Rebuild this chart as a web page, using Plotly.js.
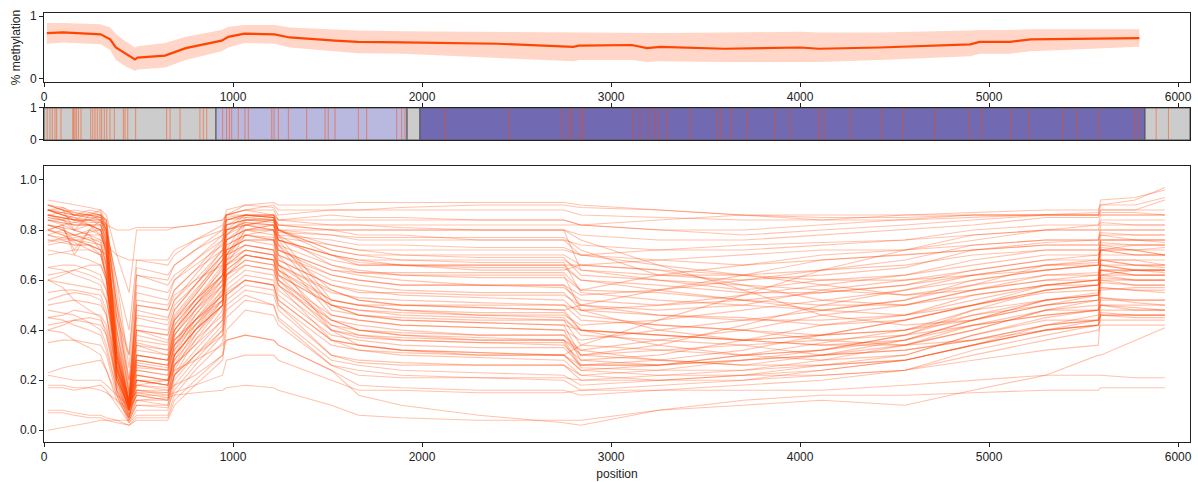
<!DOCTYPE html>
<html><head><meta charset="utf-8">
<script src="https://cdn.plot.ly/plotly-3.0.1.min.js"></script>
<style>body{margin:0;background:#fff}#plot{width:1198px;height:482px}</style>
</head><body><div id="plot"></div>
<script>
// ---- summary (top panel) ----
const meanPos = [15,100,300,350,380,430,481,495,640,750,940,975,1060,1220,1300,1540,1660,1900,2400,2800,2830,3110,3190,3260,3600,4000,4100,4420,4900,4950,5110,5220,5795];
const meanVal = [0.73,0.74,0.71,0.63,0.50,0.40,0.31,0.34,0.37,0.49,0.61,0.67,0.72,0.71,0.66,0.61,0.59,0.58,0.56,0.51,0.53,0.54,0.49,0.51,0.48,0.50,0.48,0.50,0.55,0.59,0.59,0.63,0.65];
const meanHi  = [0.89,0.89,0.87,0.82,0.72,0.60,0.50,0.52,0.57,0.67,0.78,0.83,0.86,0.86,0.82,0.78,0.77,0.76,0.75,0.74,0.74,0.74,0.73,0.73,0.74,0.75,0.74,0.74,0.77,0.78,0.78,0.79,0.79];
const meanLo  = [0.56,0.58,0.55,0.46,0.30,0.20,0.13,0.15,0.18,0.30,0.44,0.50,0.57,0.56,0.50,0.44,0.41,0.40,0.34,0.28,0.30,0.30,0.27,0.28,0.27,0.27,0.27,0.30,0.36,0.40,0.40,0.44,0.51];

// ---- annotation track (middle panel) ----
const regionStart = [0, 910, 1921, 1989, 5825];
const regionEnd   = [910, 1921, 1989, 5825, 6063];
const regionColor = ['#cccccc', '#b9b9df', '#cccccc', '#7169b1', '#cccccc'];
const cpgPos = [17,32,44,58,67,90,152,157,164,171,182,196,247,258,270,282,296,305,319,332,349,372,420,429,443,485,649,667,720,825,843,861,
  945,966,981,993,1028,1063,1081,1205,1217,1240,1293,1390,1487,1504,1540,1663,1707,1866,1892,1910,
  2122,2462,2739,2774,2792,2836,2853,3118,3153,3197,3233,3250,3295,3418,3559,3585,3638,3717,3868,3947,
  4097,4127,4265,4432,4547,4714,4891,4961,5115,5213,5393,5467,5578,5773,5796,5884,5949];

// ---- single reads (bottom panel) ----
const readPos = [20,100,160,240,300,330, 385,450,490,655, 690,800,945,965, 1065,1215,1240, 1520,1665,1890,2300,2750,2840, 3250,3700,4115,4555,4915,5300, 5578,5590,5772,5930];
const reads = [
[0.88,0.89,0.86,0.88,0.87,0.80, 0.35,0.10,0.62,0.60, 0.66,0.72,0.80,0.88, 0.90,0.89,0.86, 0.88,0.88,0.89,0.90,0.90,0.89, 0.88,0.86,0.85,0.85,0.86,0.86, 0.86,0.90,0.92,0.97],
[0.90,0.88,0.80,0.86,0.88,0.82, 0.30,0.09,0.55,0.52, 0.60,0.68,0.78,0.86, 0.88,0.88,0.84, 0.86,0.85,0.85,0.84,0.84,0.82, 0.80,0.78,0.80,0.82,0.84,0.86, 0.86,0.88,0.88,0.92],
[0.86,0.85,0.84,0.87,0.86,0.78, 0.28,0.12,0.48,0.45, 0.52,0.62,0.75,0.85, 0.86,0.85,0.80, 0.80,0.78,0.78,0.76,0.76,0.70, 0.68,0.66,0.70,0.72,0.78,0.80, 0.80,0.84,0.84,0.84],
[0.80,0.82,0.70,0.80,0.84,0.80, 0.40,0.10,0.42,0.40, 0.48,0.58,0.72,0.84, 0.85,0.84,0.79, 0.78,0.77,0.77,0.77,0.77,0.72, 0.62,0.60,0.62,0.65,0.72,0.75, 0.76,0.80,0.80,0.80],
[0.78,0.80,0.78,0.80,0.80,0.70, 0.25,0.08,0.38,0.35, 0.45,0.55,0.70,0.82, 0.84,0.83,0.77, 0.74,0.72,0.70,0.69,0.69,0.62, 0.60,0.56,0.60,0.62,0.68,0.72, 0.72,0.76,0.76,0.75],
[0.88,0.86,0.85,0.84,0.86,0.84, 0.45,0.14,0.35,0.32, 0.44,0.54,0.68,0.80, 0.83,0.82,0.76, 0.70,0.68,0.66,0.65,0.65,0.60, 0.58,0.55,0.55,0.58,0.64,0.68, 0.68,0.72,0.72,0.70],
[0.90,0.88,0.86,0.85,0.85,0.80, 0.50,0.15,0.30,0.28, 0.40,0.52,0.66,0.78, 0.85,0.86,0.80, 0.72,0.70,0.68,0.67,0.67,0.55, 0.52,0.50,0.48,0.52,0.60,0.64, 0.66,0.74,0.72,0.70],
[0.85,0.84,0.83,0.82,0.82,0.76, 0.32,0.10,0.27,0.25, 0.38,0.50,0.65,0.80, 0.82,0.80,0.74, 0.66,0.64,0.62,0.61,0.61,0.56, 0.55,0.52,0.50,0.50,0.56,0.62, 0.63,0.68,0.66,0.65],
[0.82,0.81,0.72,0.80,0.78,0.72, 0.28,0.09,0.24,0.22, 0.34,0.48,0.62,0.76, 0.80,0.80,0.72, 0.64,0.62,0.60,0.58,0.58,0.50, 0.46,0.44,0.44,0.46,0.52,0.58, 0.60,0.66,0.64,0.63],
[0.75,0.77,0.78,0.79,0.80,0.70, 0.26,0.11,0.22,0.20, 0.32,0.46,0.60,0.74, 0.78,0.77,0.70, 0.60,0.58,0.56,0.55,0.55,0.48, 0.46,0.45,0.42,0.44,0.50,0.56, 0.58,0.68,0.68,0.66],
[0.88,0.86,0.84,0.84,0.84,0.78, 0.36,0.12,0.20,0.18, 0.30,0.44,0.58,0.72, 0.76,0.76,0.68, 0.58,0.56,0.54,0.53,0.52,0.46, 0.42,0.40,0.38,0.40,0.46,0.52, 0.55,0.62,0.60,0.60],
[0.86,0.85,0.84,0.83,0.83,0.74, 0.30,0.10,0.18,0.16, 0.28,0.42,0.56,0.70, 0.80,0.82,0.74, 0.56,0.52,0.50,0.49,0.48,0.40, 0.38,0.36,0.34,0.36,0.44,0.50, 0.54,0.64,0.62,0.62],
[0.84,0.83,0.82,0.82,0.80,0.72, 0.25,0.09,0.16,0.14, 0.26,0.40,0.55,0.72, 0.84,0.85,0.78, 0.52,0.50,0.48,0.46,0.45,0.38, 0.36,0.34,0.30,0.34,0.40,0.48, 0.52,0.60,0.58,0.58],
[0.80,0.78,0.76,0.77,0.75,0.66, 0.22,0.08,0.14,0.12, 0.24,0.38,0.52,0.70, 0.82,0.84,0.76, 0.50,0.48,0.46,0.45,0.44,0.34, 0.32,0.30,0.28,0.30,0.38,0.45, 0.48,0.57,0.56,0.55],
[0.78,0.76,0.74,0.74,0.72,0.62, 0.20,0.10,0.12,0.10, 0.22,0.36,0.50,0.68, 0.80,0.82,0.74, 0.48,0.46,0.44,0.43,0.42,0.30, 0.28,0.26,0.26,0.28,0.34,0.42, 0.46,0.53,0.52,0.52],
[0.70,0.71,0.72,0.72,0.70,0.60, 0.24,0.12,0.15,0.13, 0.26,0.34,0.48,0.66, 0.78,0.80,0.70, 0.46,0.44,0.42,0.41,0.40,0.28, 0.26,0.30,0.32,0.36,0.42,0.46, 0.48,0.50,0.48,0.48],
[0.88,0.87,0.86,0.86,0.85,0.84, 0.55,0.20,0.45,0.42, 0.50,0.58,0.70,0.80, 0.86,0.85,0.82, 0.80,0.80,0.80,0.80,0.80,0.78, 0.76,0.76,0.78,0.80,0.82,0.85, 0.85,0.87,0.87,0.86],
[0.84,0.83,0.82,0.82,0.80,0.80, 0.60,0.25,0.58,0.55, 0.60,0.66,0.74,0.82, 0.84,0.84,0.80, 0.78,0.76,0.76,0.76,0.76,0.74, 0.72,0.72,0.74,0.76,0.80,0.82, 0.82,0.83,0.82,0.82],
[0.76,0.75,0.74,0.74,0.72,0.70, 0.45,0.20,0.50,0.48, 0.54,0.60,0.66,0.76, 0.80,0.80,0.76, 0.70,0.68,0.68,0.68,0.68,0.64, 0.62,0.62,0.64,0.68,0.74,0.76, 0.76,0.79,0.78,0.78],
[0.62,0.63,0.64,0.62,0.60,0.56, 0.40,0.16,0.34,0.32, 0.42,0.52,0.62,0.72, 0.76,0.76,0.72, 0.62,0.60,0.58,0.58,0.57,0.52, 0.50,0.54,0.58,0.62,0.66,0.70, 0.70,0.75,0.74,0.74],
[0.60,0.59,0.58,0.57,0.56,0.52, 0.32,0.12,0.28,0.26, 0.38,0.48,0.58,0.68, 0.72,0.70,0.66, 0.55,0.53,0.52,0.51,0.50,0.48, 0.50,0.52,0.55,0.58,0.62,0.66, 0.66,0.72,0.70,0.70],
[0.65,0.64,0.62,0.60,0.58,0.52, 0.28,0.10,0.25,0.24, 0.34,0.44,0.54,0.66, 0.70,0.68,0.62, 0.50,0.48,0.47,0.46,0.46,0.42, 0.44,0.48,0.52,0.56,0.62,0.66, 0.67,0.73,0.72,0.72],
[0.50,0.51,0.52,0.51,0.50,0.46, 0.24,0.08,0.20,0.18, 0.30,0.40,0.50,0.62, 0.68,0.66,0.60, 0.46,0.44,0.42,0.41,0.40,0.36, 0.40,0.44,0.48,0.52,0.58,0.62, 0.62,0.68,0.66,0.66],
[0.45,0.46,0.48,0.47,0.46,0.42, 0.20,0.06,0.16,0.15, 0.26,0.36,0.46,0.60, 0.66,0.64,0.58, 0.42,0.40,0.38,0.37,0.36,0.32, 0.36,0.40,0.46,0.50,0.56,0.60, 0.60,0.66,0.64,0.64],
[0.42,0.43,0.44,0.43,0.42,0.38, 0.18,0.05,0.12,0.12, 0.22,0.32,0.44,0.58, 0.64,0.62,0.56, 0.40,0.38,0.36,0.35,0.34,0.28, 0.30,0.36,0.42,0.46,0.54,0.58, 0.58,0.64,0.62,0.62],
[0.48,0.47,0.46,0.43,0.40,0.34, 0.16,0.04,0.10,0.10, 0.20,0.30,0.42,0.56, 0.62,0.60,0.54, 0.38,0.36,0.34,0.33,0.33,0.26, 0.28,0.32,0.38,0.44,0.50,0.55, 0.56,0.61,0.60,0.60],
[0.35,0.36,0.36,0.35,0.34,0.30, 0.14,0.03,0.08,0.08, 0.18,0.28,0.40,0.54, 0.60,0.58,0.52, 0.36,0.34,0.32,0.31,0.30,0.24, 0.26,0.30,0.35,0.40,0.48,0.52, 0.54,0.59,0.58,0.58],
[0.23,0.25,0.26,0.27,0.28,0.24, 0.14,0.04,0.10,0.09, 0.16,0.26,0.38,0.52, 0.58,0.56,0.50, 0.34,0.32,0.30,0.29,0.28,0.22, 0.24,0.28,0.32,0.38,0.46,0.50, 0.52,0.57,0.56,0.56],
[0.17,0.17,0.16,0.17,0.18,0.16, 0.10,0.03,0.06,0.06, 0.14,0.24,0.35,0.50, 0.56,0.54,0.48, 0.30,0.28,0.27,0.26,0.26,0.20, 0.22,0.24,0.28,0.34,0.42,0.48, 0.48,0.53,0.51,0.50],
[0.07,0.07,0.06,0.05,0.05,0.04, 0.04,0.02,0.05,0.05, 0.12,0.20,0.30,0.45, 0.52,0.50,0.45, 0.28,0.26,0.24,0.23,0.22,0.18, 0.20,0.22,0.26,0.30,0.38,0.44, 0.44,0.50,0.49,0.48],
[0.00,0.01,0.02,0.03,0.04,0.04, 0.03,0.02,0.04,0.04, 0.10,0.18,0.28,0.40, 0.48,0.46,0.42, 0.26,0.24,0.22,0.21,0.20,0.16, 0.18,0.20,0.24,0.28,0.34,0.40, 0.42,0.47,0.46,0.46],
[0.92,0.91,0.90,0.89,0.88,0.86, 0.70,0.55,0.80,0.80, 0.81,0.82,0.84,0.86, 0.90,0.91,0.90, 0.90,0.91,0.91,0.91,0.91,0.90, 0.88,0.86,0.84,0.84,0.85,0.86, 0.87,0.92,0.93,0.96],
[0.86,0.87,0.88,0.87,0.86,0.80, 0.60,0.40,0.68,0.66, 0.70,0.76,0.82,0.86, 0.88,0.90,0.88, 0.88,0.88,0.88,0.88,0.88,0.86, 0.85,0.84,0.84,0.86,0.87,0.88, 0.88,0.90,0.90,0.93],
[0.80,0.82,0.83,0.84,0.84,0.80, 0.50,0.30,0.65,0.62, 0.66,0.72,0.78,0.84, 0.86,0.86,0.84, 0.84,0.84,0.84,0.84,0.84,0.82, 0.80,0.80,0.82,0.84,0.86,0.86, 0.86,0.88,0.88,0.88],
[0.88,0.86,0.85,0.82,0.80,0.74, 0.32,0.12,0.50,0.48, 0.56,0.64,0.76,0.84, 0.86,0.86,0.82, 0.80,0.80,0.80,0.80,0.80,0.64, 0.60,0.58,0.56,0.54,0.58,0.66, 0.68,0.76,0.76,0.76],
[0.85,0.84,0.86,0.86,0.86,0.82, 0.30,0.10,0.46,0.44, 0.52,0.60,0.72,0.82, 0.84,0.84,0.78, 0.76,0.74,0.74,0.73,0.73,0.70, 0.72,0.74,0.75,0.76,0.78,0.80, 0.80,0.80,0.80,0.80],
[0.80,0.79,0.78,0.76,0.76,0.68, 0.26,0.09,0.40,0.38, 0.48,0.58,0.70,0.80, 0.83,0.82,0.76, 0.70,0.66,0.66,0.64,0.64,0.66, 0.68,0.70,0.72,0.72,0.74,0.76, 0.76,0.82,0.82,0.82],
[0.90,0.88,0.86,0.85,0.84,0.76, 0.34,0.11,0.36,0.34, 0.44,0.54,0.68,0.78, 0.82,0.80,0.72, 0.64,0.63,0.63,0.63,0.63,0.56, 0.62,0.66,0.68,0.70,0.72,0.74, 0.74,0.78,0.76,0.76],
[0.84,0.82,0.80,0.82,0.82,0.76, 0.30,0.10,0.32,0.30, 0.42,0.52,0.64,0.76, 0.80,0.78,0.70, 0.62,0.60,0.58,0.58,0.58,0.54, 0.56,0.60,0.64,0.66,0.70,0.72, 0.72,0.74,0.74,0.74],
[0.76,0.76,0.77,0.78,0.78,0.72, 0.24,0.08,0.30,0.28, 0.40,0.50,0.62,0.74, 0.78,0.76,0.68, 0.58,0.55,0.55,0.54,0.54,0.50, 0.48,0.50,0.56,0.60,0.64,0.68, 0.70,0.72,0.70,0.70],
[0.82,0.80,0.78,0.76,0.74,0.66, 0.22,0.08,0.28,0.26, 0.38,0.48,0.60,0.72, 0.76,0.74,0.66, 0.52,0.50,0.50,0.50,0.50,0.44, 0.42,0.40,0.36,0.34,0.40,0.48, 0.50,0.62,0.62,0.62],
[0.78,0.77,0.76,0.74,0.70,0.62, 0.20,0.07,0.26,0.24, 0.36,0.46,0.58,0.70, 0.74,0.72,0.64, 0.50,0.46,0.45,0.44,0.44,0.40, 0.38,0.36,0.38,0.40,0.44,0.52, 0.54,0.64,0.64,0.64],
[0.88,0.86,0.84,0.82,0.78,0.70, 0.26,0.09,0.34,0.30, 0.40,0.50,0.60,0.70, 0.74,0.72,0.64, 0.44,0.40,0.39,0.38,0.38,0.30, 0.32,0.34,0.36,0.38,0.42,0.46, 0.48,0.56,0.57,0.57],
[0.72,0.71,0.70,0.68,0.66,0.60, 0.18,0.06,0.22,0.20, 0.32,0.42,0.54,0.66, 0.72,0.70,0.62, 0.42,0.38,0.37,0.36,0.36,0.26, 0.26,0.28,0.30,0.32,0.36,0.42, 0.44,0.46,0.46,0.46],
[0.65,0.66,0.66,0.64,0.62,0.56, 0.16,0.05,0.20,0.18, 0.30,0.40,0.52,0.64, 0.70,0.68,0.60, 0.40,0.37,0.36,0.35,0.35,0.25, 0.24,0.24,0.26,0.28,0.34,0.40, 0.42,0.44,0.44,0.44],
[0.55,0.56,0.56,0.55,0.54,0.48, 0.15,0.05,0.18,0.17, 0.28,0.38,0.50,0.62, 0.68,0.66,0.58, 0.36,0.32,0.31,0.30,0.30,0.24, 0.22,0.22,0.22,0.24,0.30,0.36, 0.40,0.42,0.42,0.42],
[0.60,0.57,0.52,0.48,0.45,0.38, 0.20,0.10,0.20,0.20, 0.26,0.34,0.44,0.55, 0.60,0.58,0.50, 0.30,0.27,0.26,0.26,0.26,0.22, 0.20,0.20,0.22,0.24,0.28,0.32, 0.34,0.48,0.48,0.48],
[0.40,0.39,0.36,0.33,0.30,0.24, 0.12,0.05,0.15,0.15, 0.22,0.30,0.38,0.48, 0.54,0.50,0.44, 0.26,0.22,0.21,0.21,0.21,0.20, 0.20,0.22,0.24,0.28,0.34,0.40, 0.44,0.50,0.50,0.50],
[0.22,0.21,0.20,0.20,0.20,0.18, 0.14,0.10,0.16,0.16, 0.18,0.22,0.30,0.36, 0.38,0.36,0.34, 0.24,0.18,0.17,0.16,0.16,0.14, 0.16,0.18,0.20,0.24,0.32,0.38, 0.42,0.46,0.45,0.45],
[0.18,0.18,0.17,0.17,0.16,0.15, 0.12,0.08,0.14,0.14, 0.15,0.18,0.22,0.28, 0.30,0.30,0.28, 0.20,0.16,0.16,0.15,0.15,0.16, 0.16,0.16,0.16,0.18,0.20,0.22, 0.22,0.22,0.21,0.21],
[0.08,0.08,0.07,0.06,0.06,0.05, 0.04,0.04,0.12,0.13, 0.14,0.15,0.16,0.17, 0.18,0.17,0.16, 0.10,0.06,0.05,0.04,0.04,0.04, 0.08,0.12,0.14,0.14,0.15,0.16, 0.16,0.17,0.17,0.17],
[0.45,0.44,0.42,0.40,0.38,0.32, 0.16,0.08,0.18,0.20, 0.24,0.28,0.34,0.36, 0.38,0.36,0.34, 0.24,0.14,0.10,0.06,0.03,0.02, 0.08,0.10,0.12,0.10,0.16,0.22, 0.30,0.30,0.36,0.41],
[0.86,0.85,0.84,0.84,0.83,0.82, 0.80,0.80,0.81,0.81, 0.81,0.82,0.84,0.86, 0.86,0.85,0.82, 0.82,0.82,0.82,0.82,0.82,0.82, 0.84,0.86,0.86,0.86,0.86,0.86, 0.86,0.86,0.86,0.86],
[0.82,0.81,0.80,0.78,0.76,0.74, 0.70,0.68,0.68,0.68, 0.72,0.76,0.80,0.86, 0.88,0.86,0.80, 0.72,0.70,0.70,0.70,0.70,0.66, 0.64,0.62,0.60,0.60,0.62,0.64, 0.66,0.72,0.72,0.73],
[0.88,0.87,0.86,0.86,0.85,0.82, 0.45,0.30,0.62,0.58, 0.62,0.68,0.76,0.84, 0.86,0.85,0.80, 0.74,0.72,0.72,0.72,0.72,0.70, 0.66,0.62,0.58,0.54,0.56,0.60, 0.62,0.68,0.68,0.68],
[0.84,0.84,0.82,0.82,0.80,0.74, 0.40,0.14,0.52,0.50, 0.56,0.64,0.72,0.80, 0.82,0.82,0.76, 0.68,0.66,0.66,0.66,0.66,0.60, 0.56,0.52,0.48,0.46,0.50,0.56, 0.58,0.70,0.70,0.70],
[0.86,0.84,0.80,0.78,0.72,0.60, 0.25,0.12,0.30,0.28, 0.36,0.44,0.54,0.70, 0.78,0.76,0.66, 0.40,0.34,0.32,0.30,0.30,0.34, 0.44,0.54,0.64,0.72,0.76,0.80, 0.82,0.86,0.86,0.86],
[0.88,0.88,0.87,0.86,0.86,0.84, 0.50,0.18,0.40,0.38, 0.46,0.56,0.68,0.82, 0.86,0.86,0.84, 0.82,0.82,0.81,0.80,0.80,0.76, 0.66,0.56,0.46,0.42,0.44,0.50, 0.52,0.62,0.64,0.64],
[0.80,0.78,0.75,0.72,0.70,0.62, 0.22,0.08,0.24,0.22, 0.34,0.44,0.56,0.68, 0.74,0.72,0.66, 0.56,0.52,0.50,0.49,0.48,0.50, 0.56,0.62,0.68,0.70,0.72,0.74, 0.74,0.78,0.78,0.78],
[0.90,0.89,0.87,0.86,0.84,0.78, 0.36,0.12,0.40,0.36, 0.44,0.52,0.62,0.76, 0.82,0.84,0.78, 0.66,0.63,0.62,0.62,0.62,0.48, 0.40,0.36,0.38,0.44,0.50,0.58, 0.60,0.66,0.66,0.66],
[0.74,0.75,0.76,0.75,0.74,0.66, 0.28,0.10,0.26,0.24, 0.34,0.42,0.52,0.66, 0.72,0.70,0.64, 0.52,0.50,0.48,0.47,0.47,0.40, 0.34,0.30,0.32,0.38,0.48,0.56, 0.58,0.64,0.64,0.64],
[0.52,0.54,0.55,0.54,0.52,0.46, 0.22,0.08,0.22,0.20, 0.30,0.40,0.50,0.62, 0.66,0.64,0.58, 0.44,0.42,0.40,0.38,0.38,0.32, 0.28,0.26,0.30,0.36,0.44,0.52, 0.54,0.60,0.60,0.60],
[0.86,0.85,0.84,0.84,0.82,0.72, 0.24,0.09,0.30,0.28, 0.40,0.50,0.62,0.78, 0.84,0.84,0.80, 0.70,0.67,0.66,0.66,0.66,0.66, 0.64,0.58,0.52,0.50,0.54,0.58, 0.60,0.72,0.74,0.74],
[0.82,0.80,0.76,0.74,0.72,0.64, 0.22,0.08,0.20,0.18, 0.30,0.40,0.50,0.62, 0.70,0.68,0.60, 0.44,0.40,0.38,0.36,0.36,0.30, 0.34,0.42,0.50,0.56,0.60,0.64, 0.66,0.76,0.76,0.76],
[0.60,0.62,0.64,0.66,0.66,0.60, 0.30,0.12,0.28,0.26, 0.36,0.44,0.52,0.64, 0.70,0.68,0.62, 0.50,0.46,0.44,0.43,0.42,0.40, 0.38,0.36,0.34,0.34,0.36,0.40, 0.42,0.46,0.46,0.46],
[0.40,0.42,0.44,0.45,0.44,0.40, 0.20,0.06,0.14,0.12, 0.22,0.30,0.40,0.54, 0.60,0.58,0.52, 0.36,0.34,0.32,0.31,0.30,0.26, 0.26,0.28,0.30,0.32,0.36,0.42, 0.44,0.52,0.52,0.52]
];

const ORANGE = '#ff4500';
const traces = [];

// top: band + mean
traces.push({x: meanPos, y: meanLo, xaxis:'x', yaxis:'y', mode:'lines', line:{width:0, color:'rgba(0,0,0,0)'}, hoverinfo:'skip', showlegend:false});
traces.push({x: meanPos, y: meanHi, xaxis:'x', yaxis:'y', mode:'lines', fill:'tonexty', fillcolor:'rgba(255,69,0,0.22)', line:{width:0, color:'rgba(0,0,0,0)'}, hoverinfo:'skip', showlegend:false});
traces.push({x: meanPos, y: meanVal, xaxis:'x', yaxis:'y', mode:'lines', line:{width:2.2, color:ORANGE}, showlegend:false});

// middle: regions as bars
traces.push({type:'bar', xaxis:'x2', yaxis:'y2',
  x: regionStart.map((s,i)=>(s+regionEnd[i])/2),
  width: regionEnd.map((e,i)=>e-regionStart[i]),
  y: regionStart.map(()=>1),
  marker:{color: regionColor, line:{color:'#555555', width:1}}, showlegend:false, hoverinfo:'skip'});
// CpG ticks
const cx = [], cy = [];
cpgPos.forEach(p => { cx.push(p, p, null); cy.push(0, 1, null); });
traces.push({x: cx, y: cy, xaxis:'x2', yaxis:'y2', mode:'lines', line:{width:1, color:'rgba(255,69,0,0.5)'}, showlegend:false, hoverinfo:'skip'});

// bottom: reads
reads.forEach(r => {
  traces.push({x: readPos, y: r, xaxis:'x3', yaxis:'y3', mode:'lines', line:{width:1.1, color:'rgba(255,69,0,0.32)'}, showlegend:false, hoverinfo:'skip'});
});

const axBase = {showgrid:false, zeroline:false, showline:true, linecolor:'#222', linewidth:1, mirror:true,
  ticks:'outside', ticklen:4, tickcolor:'#222', tickfont:{size:12, color:'#222'}};
const XR = [0, 6063];
const XT = [0,1000,2000,3000,4000,5000,6000];
const layout = {
  width:1198, height:482, paper_bgcolor:'#fff', plot_bgcolor:'#fff',
  font:{family:'Liberation Sans, Arial, sans-serif', size:12, color:'#222'},
  margin:{l:44, r:8, t:13, b:40},
  barmode:'overlay', bargap:0,
  xaxis: Object.assign({}, axBase, {domain:[0,1], range:XR, anchor:'y', tickvals:XT}),
  yaxis: Object.assign({}, axBase, {domain:[0.8392,1], range:[-0.05,1.05], tickvals:[0,1], anchor:'x',
    title:{text:'% methylation', font:{size:12}, standoff:6}}),
  xaxis2: Object.assign({}, axBase, {domain:[0,1], range:XR, anchor:'y2', side:'top', showticklabels:false, tickvals:XT}),
  yaxis2: Object.assign({}, axBase, {domain:[0.704,0.7786], range:[0,1], tickvals:[0,1], anchor:'x2'}),
  xaxis3: Object.assign({}, axBase, {domain:[0,1], range:XR, anchor:'y3', tickvals:XT,
    title:{text:'position', font:{size:12}, standoff:6}}),
  yaxis3: Object.assign({}, axBase, {domain:[0,0.6434], range:[-0.047,1.056], tickvals:[0,0.2,0.4,0.6,0.8,1.0], tickformat:'.1f', anchor:'x3'})
};
Plotly.newPlot('plot', traces, layout, {staticPlot:true, displayModeBar:false});
</script>
</body></html>
